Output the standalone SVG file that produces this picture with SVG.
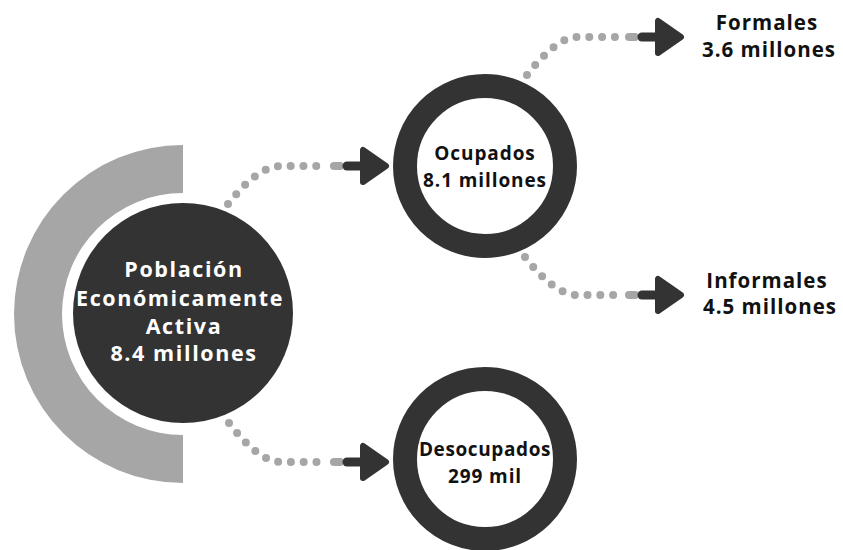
<svg xmlns="http://www.w3.org/2000/svg" width="843" height="550" viewBox="0 0 843 550">
<style>
  .dots{fill:none;stroke:#a6a6a6;stroke-width:8;stroke-linecap:round;stroke-dasharray:0 12.8}
  .pill{stroke:#a6a6a6;stroke-width:8;stroke-linecap:round}
  .shaft{stroke:#333;stroke-width:9;stroke-linecap:round}
  .head{fill:#333;stroke:#333;stroke-width:6;stroke-linejoin:round}
  .ring{fill:#fff;stroke:#333;stroke-width:24}
  .w{font-family:"Open Sans","Liberation Sans",sans-serif;font-weight:700;fill:#fff;text-anchor:middle;font-size:21.5px;letter-spacing:1.6px}
  .k{font-family:"Open Sans","Liberation Sans",sans-serif;font-weight:700;fill:#111;text-anchor:middle;font-size:19px;letter-spacing:0.9px}
  .o{font-family:"Open Sans","Liberation Sans",sans-serif;font-weight:700;fill:#111;text-anchor:middle;font-size:20.5px;letter-spacing:1px}
</style>
<defs>
  <g id="arrow">
    <line class="pill" x1="-56" y1="0" x2="-50" y2="0"/>
    <line class="shaft" x1="-43" y1="0" x2="-29" y2="0"/>
    <polygon class="head" points="-27,-16 -27,16 -4,0"/>
  </g>
</defs>
<g id="connectors">
  <path class="dots" d="M228,204 Q258,166 281,166 L320,166"/>
  <use href="#arrow" x="390" y="166"/>
  <path class="dots" d="M229,423 Q259,462 281,462 L320,462"/>
  <use href="#arrow" x="390" y="462"/>
  <path class="dots" d="M527,75 Q557,37 577,37 L616,37"/>
  <use href="#arrow" x="685" y="37"/>
  <path class="dots" d="M525,257 Q555,295 577,295 L616,295"/>
  <use href="#arrow" x="685" y="295"/>
</g>
<g id="pea">
  <path d="M183,145 A169,169 0 0 0 183,483 L183,435 A121,121 0 0 1 183,193 Z" fill="#a6a6a6"/>
  <circle cx="183" cy="313" r="110" fill="#333"/>
  <text class="w" x="184" y="277">Población</text>
  <text class="w" x="180" y="306">Económicamente</text>
  <text class="w" x="184" y="334">Activa</text>
  <text class="w" x="184" y="361">8.4 millones</text>
</g>
<g id="ocupados">
  <circle class="ring" cx="485" cy="166" r="80"/>
  <text class="k" x="485" y="160">Ocupados</text>
  <text class="k" x="485" y="187">8.1 millones</text>
</g>
<g id="desocupados">
  <circle class="ring" cx="485" cy="459" r="80"/>
  <text class="k" x="485" y="456" style="letter-spacing:0.6px">Desocupados</text>
  <text class="k" x="485" y="483">299 mil</text>
</g>
<g id="formales">
  <text class="o" x="767" y="30">Formales</text>
  <text class="o" x="769" y="57">3.6 millones</text>
</g>
<g id="informales">
  <text class="o" x="767" y="288">Informales</text>
  <text class="o" x="770" y="314">4.5 millones</text>
</g>
</svg>
